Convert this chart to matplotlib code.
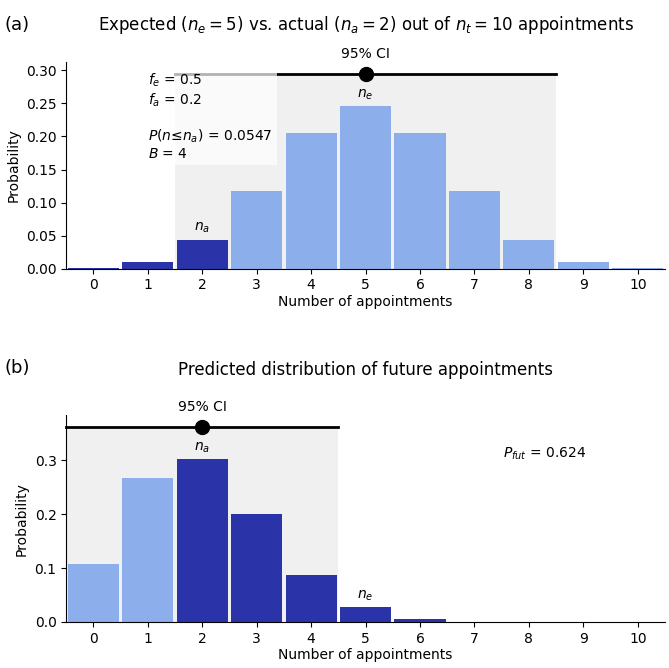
import matplotlib
matplotlib.use("Agg")
import matplotlib.pyplot as plt
import numpy as np

counts = np.arange(11)

# panel (a): expected distribution of appointments
prob_expected = [0.001, 0.0098, 0.0439, 0.117, 0.205, 0.246, 0.205, 0.117, 0.0439, 0.0098, 0.001]
n_e, n_a = 5, 2
ci_a = (2, 8)

# panel (b): predicted distribution of future appointments
prob_future = [0.107, 0.268, 0.302, 0.201, 0.088, 0.027, 0.006, 0.0004, 0.0001, 0.0, 0.0]
ci_b = (0, 4)
mode_b = 2

light = "#8cafec"
dark = "#2b33a8"
shade = "#f0f0f0"

fig, (ax1, ax2) = plt.subplots(2, 1, figsize=(6.69, 6.68), dpi=100)
fig.subplots_adjust(left=0.099, right=0.994, top=0.907, bottom=0.069, hspace=0.71)


def draw_ci(ax, lo, hi, center, top):
    line_y = 1.2 * top
    ax.fill_between([lo - 0.5, hi + 0.5], 0, line_y, color=shade, zorder=0, linewidth=0)
    ax.plot([lo - 0.5, hi + 0.5], [line_y, line_y], color="black", lw=2, zorder=3, clip_on=False)
    ax.plot(center, line_y, "o", color="black", markersize=10, zorder=4, clip_on=False)
    ax.annotate("95% CI", (center, line_y), xytext=(0, 9), textcoords="offset points",
                ha="center", va="bottom", fontsize=10, annotation_clip=False)
    ax.set_ylim(0, 1.27 * top)


def label_bar(ax, x, h, text):
    ax.annotate(text, (x, h), xytext=(0, 3), textcoords="offset points",
                ha="center", va="bottom", fontsize=10)


# --- panel (a)
cols_a = [dark if c <= n_a else light for c in counts]
ax1.bar(counts, prob_expected, width=0.94, color=cols_a, zorder=2)
draw_ci(ax1, ci_a[0], ci_a[1], n_e, max(prob_expected))
label_bar(ax1, n_e, prob_expected[n_e], "$n_e$")
label_bar(ax1, n_a, prob_expected[n_a], "$n_a$")
ax1.text(0.137, 0.955, "$f_e$ = 0.5\n$f_a$ = 0.2\n\n$P(n$≤$n_a)$ = 0.0547\n$B$ = 4",
         transform=ax1.transAxes, ha="left", va="top", fontsize=10, zorder=5,
         bbox=dict(boxstyle="square,pad=0.3", facecolor="white", edgecolor="none", alpha=0.7))
ax1.set_title("Expected ($n_e = 5$) vs. actual ($n_a = 2$) out of $n_t = 10$ appointments",
              fontsize=12, pad=23)
ax1.set_yticks([0, 0.05, 0.10, 0.15, 0.20, 0.25, 0.30])
ax1.set_yticklabels(["0.00", "0.05", "0.10", "0.15", "0.20", "0.25", "0.30"])
fig.text(0.006, 0.962, "(a)", fontsize=13, va="center")

# --- panel (b)
cols_b = [dark if c >= n_a else light for c in counts]
ax2.bar(counts, prob_future, width=0.94, color=cols_b, zorder=2)
draw_ci(ax2, ci_b[0], ci_b[1], mode_b, max(prob_future))
label_bar(ax2, n_a, prob_future[n_a], "$n_a$")
label_bar(ax2, n_e, prob_future[n_e], "$n_e$")
ax2.text(0.73, 0.816, "$P_{fut}$ = 0.624", transform=ax2.transAxes,
         ha="left", va="center", fontsize=10)
ax2.set_title("Predicted distribution of future appointments", fontsize=12, pad=29)
ax2.set_yticks([0, 0.1, 0.2, 0.3])
fig.text(0.006, 0.449, "(b)", fontsize=13, va="center")

for ax in (ax1, ax2):
    ax.set_xlim(-0.5, 10.5)
    ax.set_xticks(counts)
    ax.set_xlabel("Number of appointments", fontsize=10, labelpad=2)
    ax.set_ylabel("Probability", fontsize=10)
    ax.tick_params(labelsize=10)
    ax.spines["top"].set_visible(False)
    ax.spines["right"].set_visible(False)

fig.savefig("out.png", dpi=100)
